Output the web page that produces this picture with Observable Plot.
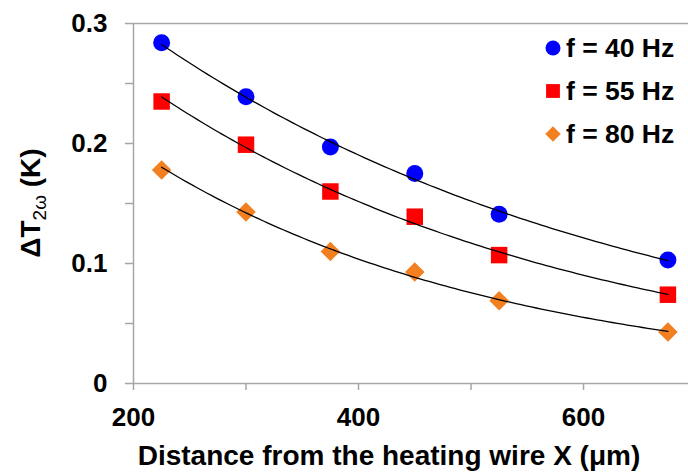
<!DOCTYPE html>
<html>
<head>
<meta charset="utf-8">
<script src="https://cdn.jsdelivr.net/npm/d3@7"></script>
<script src="https://cdn.jsdelivr.net/npm/@observablehq/plot@0.6"></script>
<style>
  html, body { margin: 0; padding: 0; background: #fff; }
  #chart { position: relative; width: 688px; height: 473px; }
</style>
</head>
<body>
<div id="chart"></div>
<script>
// ---- data ----
const distances = [225, 300, 375, 450, 525, 675];
const f40 = [0.284, 0.239, 0.197, 0.175, 0.141, 0.103];
const f55 = [0.235, 0.199, 0.160, 0.139, 0.107, 0.074];
const f80 = [0.178, 0.143, 0.110, 0.093, 0.069, 0.043];
const seriesNames = ["f = 40 Hz", "f = 55 Hz", "f = 80 Hz"];
const seriesColors = ["#0000ff", "#ff0000", "#f28021"];
const seriesSymbols = ["circle", "square", "diamond2"];
const seriesRadius = [8.5, 9.3, 8.8];
const xMajorTicks = [200, 400, 600];
const xMinorTicks = [300, 500];
const yMajorTicks = [0, 0.1, 0.2, 0.3];
const yMinorTicks = [0.05, 0.15, 0.25];

const seriesValues = [f40, f55, f80];
const points = [];
seriesValues.forEach((vals, i) => vals.forEach((v, j) => points.push({x: distances[j], y: v, s: i})));

// exponential trendlines (least squares on ln y), computed from the data
const fits = [];
seriesValues.forEach((vals, i) => {
  const n = vals.length;
  const lx = distances, ly = vals.map(Math.log);
  const mx = d3.mean(lx), my = d3.mean(ly);
  let sxy = 0, sxx = 0;
  for (let k = 0; k < n; k++) { sxy += (lx[k]-mx)*(ly[k]-my); sxx += (lx[k]-mx)**2; }
  const b = sxy / sxx, a = my - b*mx;
  const x0 = d3.min(distances), x1 = d3.max(distances);
  for (let k = 0; k <= 100; k++) {
    const x = x0 + (x1 - x0) * k / 100;
    fits.push({x, y: Math.exp(a + b*x), s: i});
  }
});

const axisGray = "#a6a6a6";
const font = "'Liberation Sans', Arial, Helvetica, sans-serif";

const plot = Plot.plot({
  width: 688,
  height: 473,
  marginLeft: 133,
  marginRight: 0,
  marginTop: 23,
  marginBottom: 90,
  x: {domain: [200, 693.3]},
  y: {domain: [0, 0.3]},
  r: {type: "identity"},
  style: {fontFamily: font, fontWeight: "bold", color: "#000", background: "#fff"},
  marks: [
    Plot.ruleY([0.3], {stroke: axisGray, strokeWidth: 1.5}),
    Plot.axisY({ticks: yMajorTicks, tickFormat: d => d === 0 ? "0" : d.toFixed(1), tickSize: 8, tickPadding: 18,
      stroke: axisGray, strokeWidth: 1.5, fontSize: 26, label: null}),
    Plot.axisY({ticks: yMinorTicks, tickFormat: () => "", tickSize: 8, stroke: axisGray, strokeWidth: 1.5, label: null}),
    Plot.axisX({ticks: xMajorTicks, tickSize: 7, tickPadding: 17, stroke: axisGray, strokeWidth: 1.5, fontSize: 26, label: null}),
    Plot.axisX({ticks: xMinorTicks, tickFormat: () => "", tickSize: 7, stroke: axisGray, strokeWidth: 1.5, label: null}),
    Plot.ruleY([0], {stroke: axisGray, strokeWidth: 1.5}),
    Plot.ruleX([200], {stroke: axisGray, strokeWidth: 1.5}),
    Plot.dot(points, {x: "x", y: "y", fill: d => seriesColors[d.s], symbol: d => seriesSymbols[d.s], r: d => seriesRadius[d.s], stroke: "none"}),
    Plot.line(fits, {x: "x", y: "y", z: "s", stroke: "#000", strokeWidth: 1.3})
  ]
});
plot.style.fontSize = "26px";
document.getElementById("chart").appendChild(plot);

const svg = d3.select(plot);
const ys = plot.scale("y");
const yMid = (ys.apply(0) + ys.apply(0.3)) / 2;

// y axis title with subscript
const yt = svg.append("text")
  .attr("transform", `translate(40,${yMid}) rotate(-90)`)
  .attr("text-anchor", "middle")
  .attr("font-family", font).attr("font-weight", "bold").attr("font-size", 28).attr("fill", "#000");
yt.append("tspan").text("ΔT");
yt.append("tspan").attr("font-size", 19).attr("dy", 6).attr("font-weight", "normal").text("2ω");
yt.append("tspan").attr("dy", -6).text(" (K)");

// x axis title
svg.append("text")
  .attr("x", 389).attr("y", 465)
  .attr("text-anchor", "middle")
  .attr("font-family", font).attr("font-weight", "bold").attr("font-size", 28).attr("fill", "#000")
  .text("Distance from the heating wire X (μm)");

// legend
const legendSymbolSize = [7.5 * 7.5 * Math.PI, 7.8 * 7.8 * Math.PI, 7 * 7 * Math.PI];
const symbolTypes = [d3.symbolCircle, d3.symbolSquare, d3.symbolDiamond2];
seriesNames.forEach((name, i) => {
  const cy = 48 + i * 43;
  svg.append("path")
    .attr("transform", `translate(553,${cy})`)
    .attr("d", d3.symbol(symbolTypes[i], legendSymbolSize[i])())
    .attr("fill", seriesColors[i]);
  svg.append("text")
    .attr("x", 566).attr("y", cy + 9)
    .attr("text-anchor", "start")
    .attr("font-family", font).attr("font-weight", "bold").attr("font-size", 26.5).attr("fill", "#000")
    .text(name);
});
</script>
</body>
</html>
